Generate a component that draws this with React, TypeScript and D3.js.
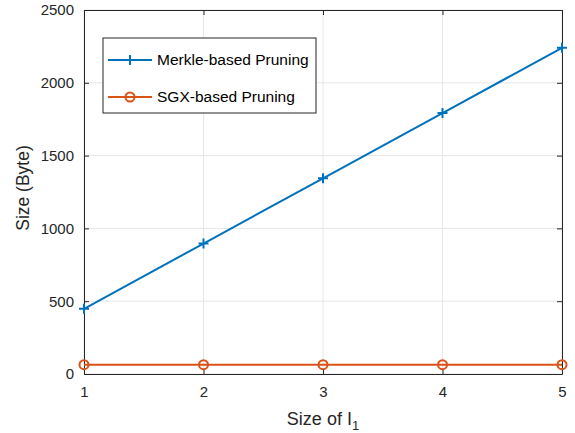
import React, { useEffect, useRef } from 'react';
import * as d3 from 'd3';

const sizes = [1, 2, 3, 4, 5];
const merkle = [448, 896, 1344, 1792, 2240];
const sgx = [64, 64, 64, 64, 64];
const yTicks = [0, 500, 1000, 1500, 2000, 2500];
const seriesNames = ['Merkle-based Pruning', 'SGX-based Pruning'];

const App = () => {
  const ref = useRef<SVGSVGElement>(null);

  useEffect(() => {
    const svg = d3.select(ref.current);
    svg.selectAll('*').remove();

    const margin = { top: 10, right: 13, bottom: 59, left: 84 };
    const width = 575 - margin.left - margin.right;
    const height = 433 - margin.top - margin.bottom;
    const font = '"Liberation Sans", Arial, Helvetica, sans-serif';
    const axisColor = '#262626';

    const x = d3.scaleLinear().domain([1, 5]).range([0, width]);
    const y = d3.scaleLinear().domain([0, 2500]).range([height, 0]);

    const g = svg.append('g').attr('transform', `translate(${margin.left},${margin.top})`);

    // rejilla
    g.selectAll('.gx').data(sizes).enter().append('line')
      .attr('x1', (d) => x(d)).attr('x2', (d) => x(d))
      .attr('y1', 0).attr('y2', height)
      .attr('stroke', '#e6e6e6').attr('stroke-width', 1);
    g.selectAll('.gy').data(yTicks).enter().append('line')
      .attr('y1', (d) => y(d)).attr('y2', (d) => y(d))
      .attr('x1', 0).attr('x2', width)
      .attr('stroke', '#e6e6e6').attr('stroke-width', 1);

    // ejes
    const xAxis = d3.axisBottom(x).tickValues(sizes).tickFormat(d3.format('d')).tickSizeInner(-5).tickSizeOuter(0).tickPadding(12);
    const yAxis = d3.axisLeft(y).tickValues(yTicks).tickFormat(d3.format('d')).tickSizeInner(-5).tickSizeOuter(0).tickPadding(10);
    const xTop = d3.axisTop(x).tickValues(sizes).tickFormat(() => '').tickSizeInner(-5).tickSizeOuter(0);
    const yRight = d3.axisRight(y).tickValues(yTicks).tickFormat(() => '').tickSizeInner(-5).tickSizeOuter(0);

    g.append('g').attr('class', 'x-axis').attr('transform', `translate(0,${height})`).call(xAxis);
    g.append('g').attr('class', 'y-axis').call(yAxis);
    g.append('g').attr('class', 'x-top').call(xTop);
    g.append('g').attr('class', 'y-right').attr('transform', `translate(${width},0)`).call(yRight);

    g.selectAll('.domain, .tick line').attr('stroke', axisColor);
    g.selectAll('.tick text')
      .style('font-family', font)
      .style('font-size', '15px')
      .attr('fill', axisColor);

    // líneas
    const line = d3.line<number>()
      .x((d, i) => x(sizes[i]))
      .y((d) => y(d));

    g.append('path').datum(merkle).attr('d', line)
      .attr('fill', 'none').attr('stroke', '#0072BD').attr('stroke-width', 2);
    g.append('path').datum(sgx).attr('d', line)
      .attr('fill', 'none').attr('stroke', '#D95319').attr('stroke-width', 2);

    const plus = (sel: any, cx: number, cy: number, color: string) => {
      sel.append('path')
        .attr('d', `M${cx - 5},${cy}H${cx + 5}M${cx},${cy - 5}V${cy + 5}`)
        .attr('stroke', color).attr('stroke-width', 2).attr('fill', 'none');
    };
    const circ = (sel: any, cx: number, cy: number, color: string) => {
      sel.append('circle').attr('cx', cx).attr('cy', cy).attr('r', 4.5)
        .attr('fill', 'none').attr('stroke', color).attr('stroke-width', 2);
    };

    merkle.forEach((d, i) => plus(g, x(sizes[i]), y(d), '#0072BD'));
    sgx.forEach((d, i) => circ(g, x(sizes[i]), y(d), '#D95319'));

    // leyenda
    const leg = svg.append('g').attr('transform', 'translate(103,38)');
    leg.append('rect').attr('width', 213).attr('height', 75)
      .attr('fill', 'white').attr('stroke', axisColor).attr('stroke-width', 1);
    const colors = ['#0072BD', '#D95319'];
    seriesNames.forEach((name, i) => {
      const ly = 22 + i * 37;
      leg.append('line').attr('x1', 5).attr('x2', 49).attr('y1', ly).attr('y2', ly)
        .attr('stroke', colors[i]).attr('stroke-width', 2);
      if (i === 0) plus(leg, 27, ly, colors[i]);
      else circ(leg, 27, ly, colors[i]);
      leg.append('text').attr('x', 54).attr('y', ly).attr('dy', '0.35em')
        .style('font-family', font).style('font-size', '15.5px')
        .attr('fill', '#000').text(name);
    });

    // etiquetas de ejes
    const xl = svg.append('text')
      .attr('x', margin.left + width / 2).attr('y', 425)
      .style('text-anchor', 'middle')
      .style('font-family', font).style('font-size', '18px')
      .attr('fill', axisColor);
    xl.append('tspan').text('Size of I');
    xl.append('tspan').attr('dy', 5).style('font-size', '13px').text('1');

    svg.append('text')
      .attr('transform', `translate(29,188) rotate(-90)`)
      .style('text-anchor', 'middle')
      .style('font-family', font).style('font-size', '17.5px')
      .attr('fill', axisColor)
      .text('Size (Byte)');
  }, []);

  return (
    <svg ref={ref} width={575} height={433}
      style={{ position: 'absolute', left: 0, top: 0, background: 'white' }} />
  );
};

export default App;
